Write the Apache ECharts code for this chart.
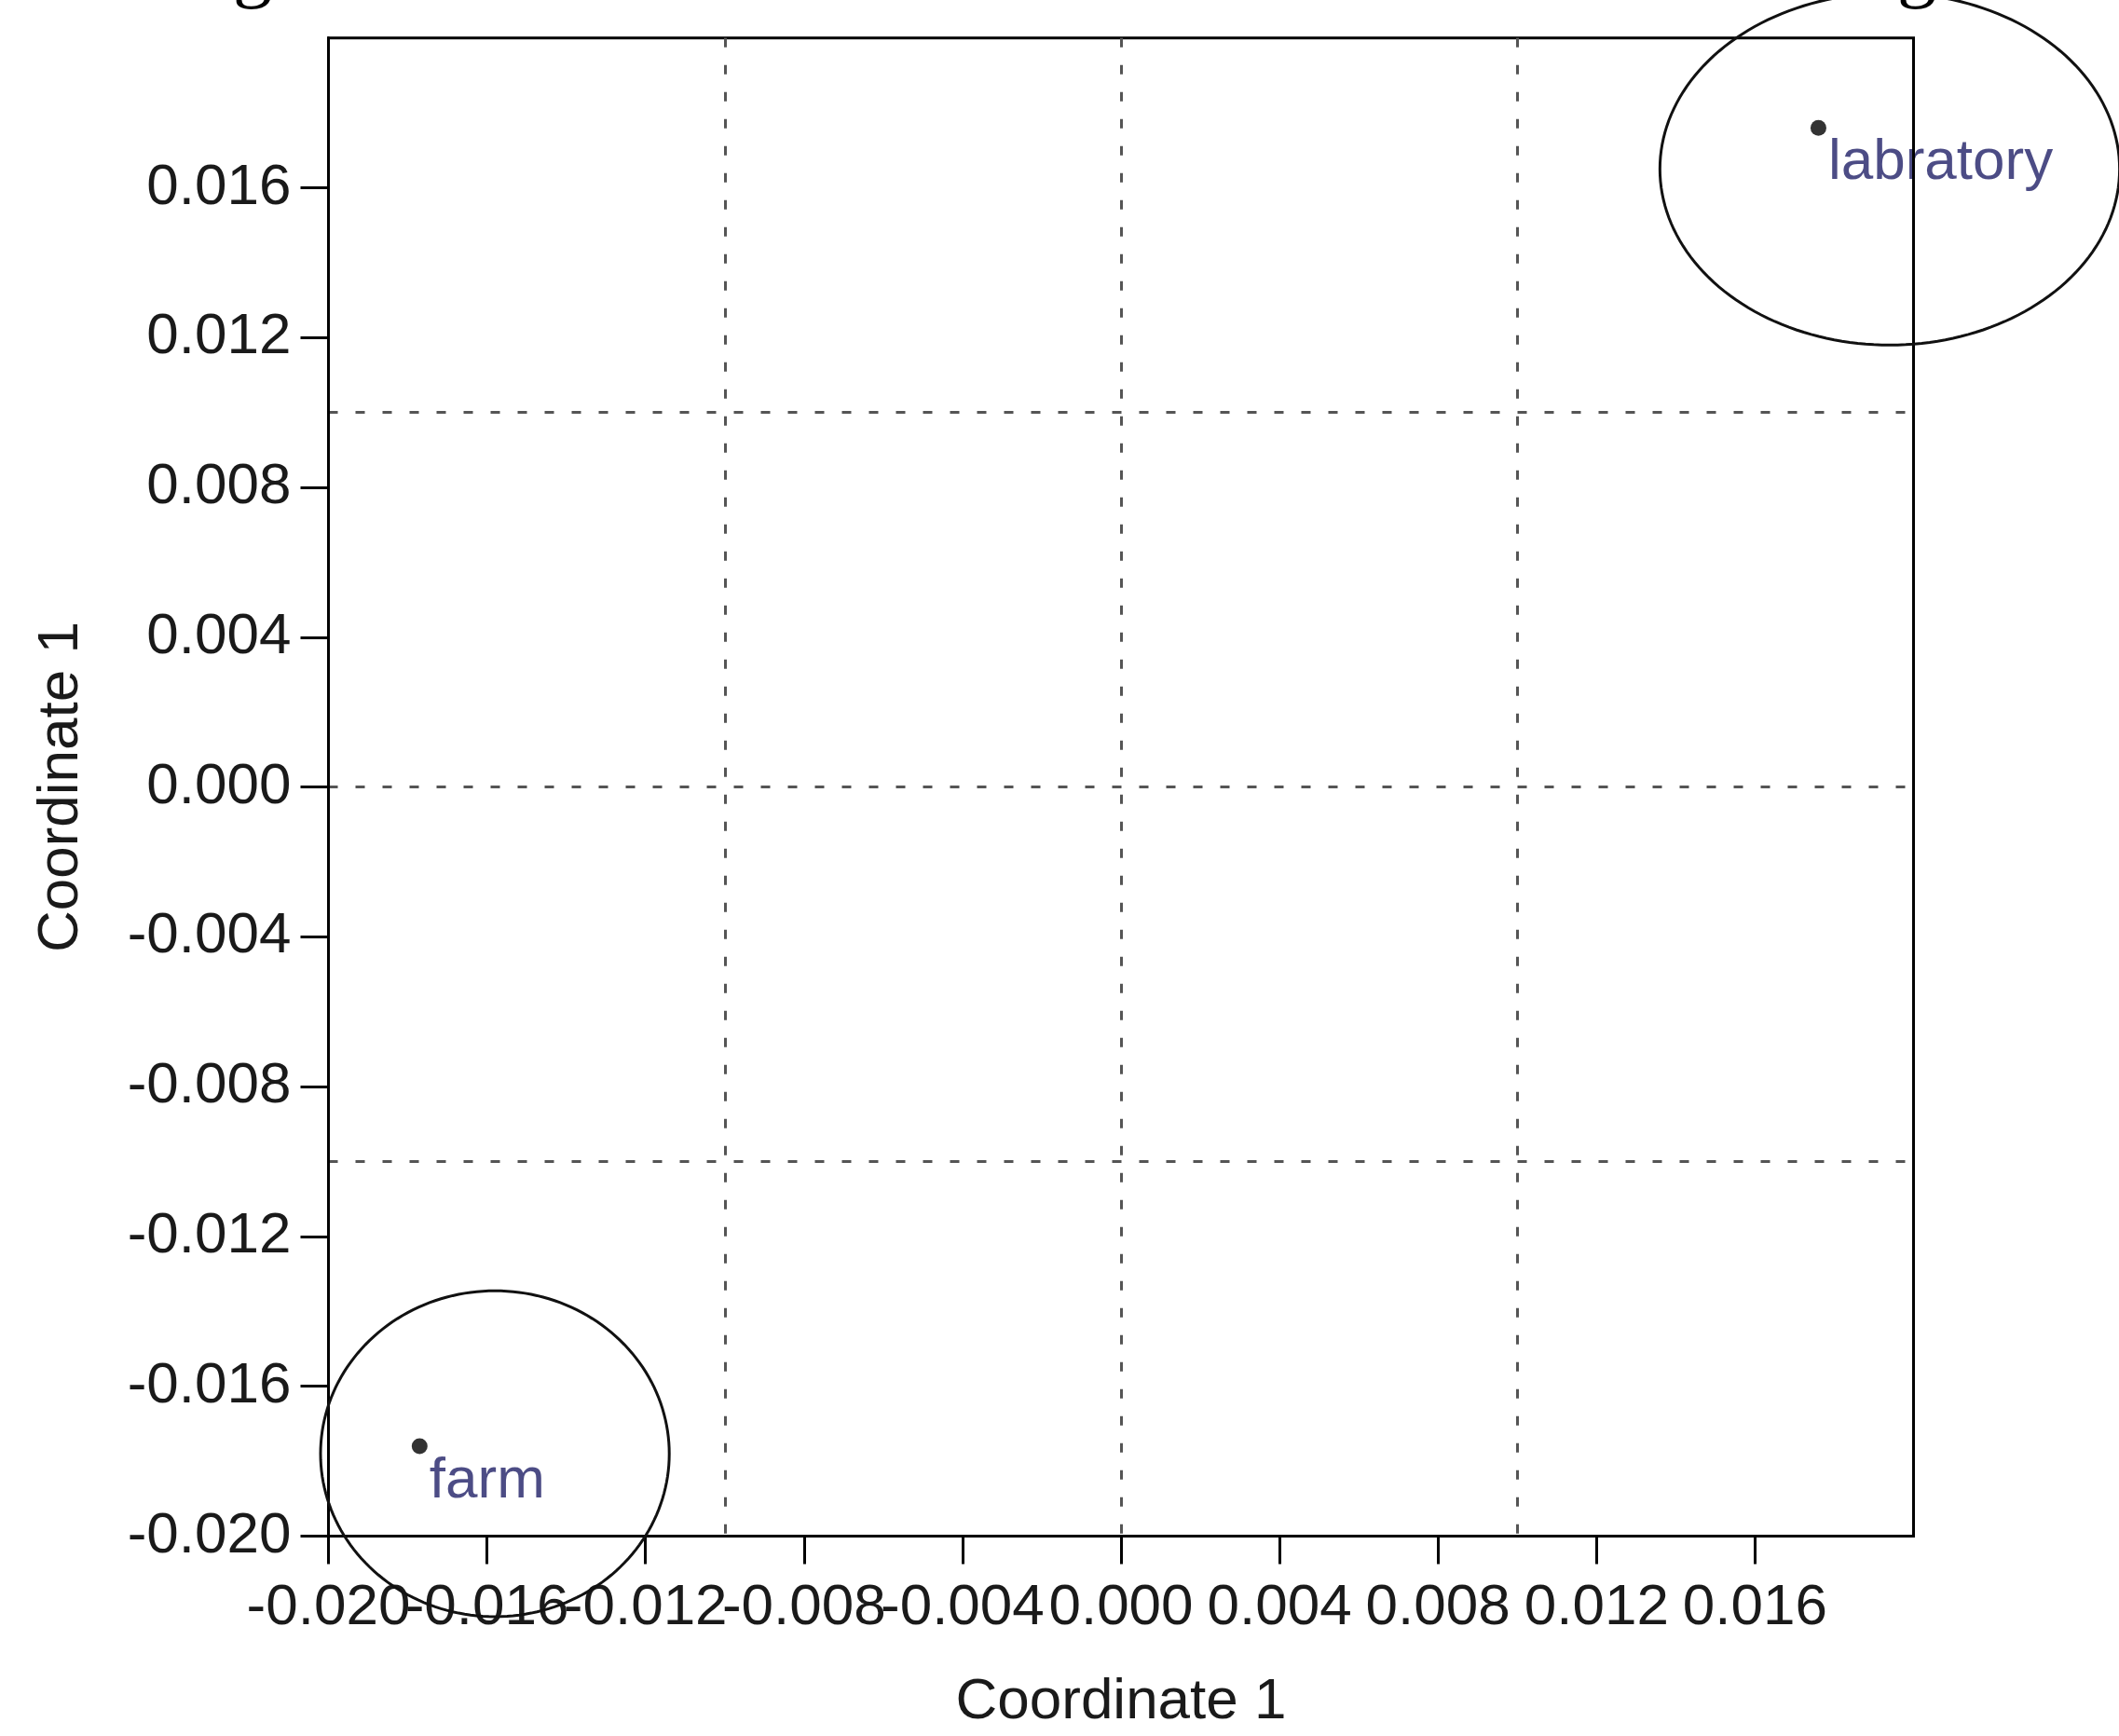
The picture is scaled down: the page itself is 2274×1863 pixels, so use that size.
<!DOCTYPE html>
<html>
<head>
<meta charset="utf-8">
<title>Coordinate 1</title>
<script src="https://cdn.jsdelivr.net/npm/echarts@6/dist/echarts.min.js"></script>
<style>
  html, body { margin: 0; padding: 0; background: #fff; }
  #chart { width: 2274px; height: 1863px; }
</style>
</head>
<body>
<div id="chart"></div>
<script>
// tick labels shared by both axes
const tickValues = [-0.020, -0.016, -0.012, -0.008, -0.004, 0.000, 0.004, 0.008, 0.012, 0.016];

// group points
const groups = ["labratory", "farm"];
const coordX = [0.0176, -0.0177];
const coordY = [0.0176, -0.0176];

// confidence ellipses (centre and radii, data units)
const ellCX = [0.0194, -0.0158];
const ellCY = [0.0165, -0.0178];
const ellRX = [0.0058, 0.0044];
const ellRY = [0.0047, 0.00435];

const font = "'Liberation Sans', Arial, sans-serif";

const chart = echarts.init(document.getElementById("chart"));

const points = groups.map((g, i) => ({ name: g, value: [coordX[i], coordY[i]] }));
const ellipses = groups.map((g, i) => [ellCX[i], ellCY[i], ellRX[i], ellRY[i]]);

// x labels touch each other, so they are split over two axes (every other one)
const evenTicks = tickValues.filter((v, i) => i % 2 === 0);
const oddTicks = tickValues.filter((v, i) => i % 2 === 1);

function labelStyle(values, margin) {
  return {
    show: true, customValues: values, color: "#1a1a1a", margin: margin,
    showMinLabel: true, showMaxLabel: true, hideOverlap: false,
    fontFamily: font, fontSize: 62, formatter: v => v.toFixed(3)
  };
}

// visible axis: line, ticks every 0.004, name
function mainAxis(name, nameGap, labelValues, margin) {
  return {
    type: "value",
    min: -0.02,
    max: 0.02,
    interval: 0.004,
    name: name,
    nameLocation: "middle",
    nameGap: nameGap,
    nameTextStyle: { color: "#1a1a1a", fontFamily: font, fontSize: 62 },
    axisLine: { show: true, onZero: false, lineStyle: { color: "#000", width: 3 } },
    axisTick: { show: true, inside: false, length: 30, customValues: tickValues,
      lineStyle: { color: "#000", width: 3 } },
    axisLabel: labelStyle(labelValues, margin),
    splitLine: { show: false }
  };
}

// extra axis carrying only labels
function labelAxis(pos, values, margin) {
  return {
    type: "value",
    position: pos,
    min: -0.02,
    max: 0.02,
    axisLine: { show: false },
    axisTick: { show: false },
    axisLabel: labelStyle(values, margin),
    splitLine: { show: false }
  };
}

// hidden axis: only the dotted grid every 0.010
function gridAxis(pos) {
  return {
    type: "value",
    position: pos,
    min: -0.02,
    max: 0.02,
    interval: 0.01,
    axisLine: { show: false },
    axisTick: { show: false },
    axisLabel: { show: false },
    splitLine: { show: true, showMinLine: false, showMaxLine: false,
      lineStyle: { color: "#555", width: 3, type: [10, 19] } }
  };
}

const option = {
  backgroundColor: "#fff",
  animation: false,
  grid: {
    left: 352.5, right: 220.5, top: 40.7, bottom: 214.5,
    show: true, borderColor: "#000", borderWidth: 3,
    outerBoundsMode: "none"
  },
  xAxis: [
    mainAxis("Coordinate 1", 147, evenTicks, 46),
    gridAxis("top"),
    labelAxis("bottom", oddTicks, 46)
  ],
  yAxis: [
    mainAxis("Coordinate 1", 256, tickValues.slice(1), 40),
    gridAxis("right"),
    labelAxis("left", tickValues.slice(0, 1), 40)
  ],
  graphic: [
    // descenders of the cut-off caption above the plot
    { type: "text", left: 250, top: -72, silent: true,
      style: { text: "g", fill: "#000", font: "84px 'Liberation Serif', 'Times New Roman', serif" } },
    { type: "text", left: 2036, top: -72, silent: true,
      style: { text: "g", fill: "#000", font: "84px 'Liberation Serif', 'Times New Roman', serif" } }
  ],
  series: [
    {
      type: "custom",
      clip: false,
      z: 3,
      data: ellipses,
      encode: { x: 0, y: 1 },
      renderItem: function (params, api) {
        const cx = api.value(0), cy = api.value(1), rx = api.value(2), ry = api.value(3);
        const pts = [];
        for (let k = 0; k <= 180; k++) {
          const t = (k / 180) * Math.PI * 2;
          pts.push(api.coord([cx + rx * Math.cos(t), cy + ry * Math.sin(t)]));
        }
        return {
          type: "polyline",
          shape: { points: pts },
          style: { stroke: "#111", lineWidth: 3, fill: null }
        };
      }
    },
    {
      type: "scatter",
      z: -1,
      symbol: "circle",
      symbolSize: 17,
      itemStyle: { color: "#000" },
      data: points,
      label: {
        show: true,
        position: "right",
        distance: 2,
        offset: [0, 38],
        formatter: "{b}",
        color: "#1f1f66",
        fontFamily: font,
        fontSize: 62
      }
    }
  ]
};

chart.setOption(option);
</script>
</body>
</html>
